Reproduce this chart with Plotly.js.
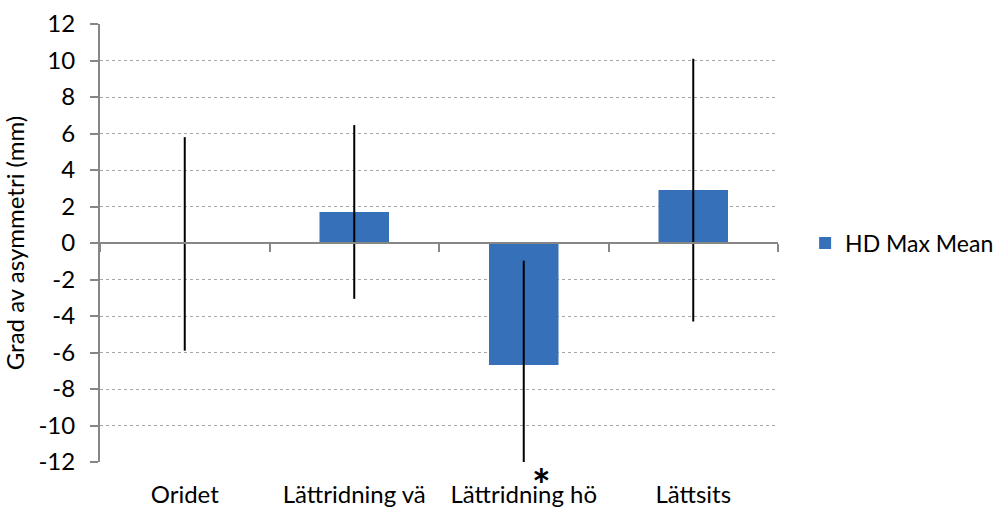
<!DOCTYPE html>
<html>
<head>
<meta charset="utf-8">
<script src="https://cdn.plot.ly/plotly-3.0.1.min.js"></script>
<style>html,body{margin:0;padding:0;background:#fff;}#chart{width:999px;height:511px;}</style>
</head>
<body>
<div id="chart"></div>
<script>
const categories = ["Oridet", "Lättridning vä", "Lättridning hö", "Lättsits"];
const meanValues = [-0.05, 1.70, -6.68, 2.90];
const errorValues = [5.85, 4.76, 5.71, 7.20];
const yTickValues = [-12, -10, -8, -6, -4, -2, 0, 2, 4, 6, 8, 10, 12];
const seriesName = "HD Max Mean";
const yTitle = "Grad av asymmetri (mm)";
const markText = "*";
const markedCategory = "Lättridning hö";

const font = "Lato, 'Open Sans', sans-serif";
const fs = 24;

const traces = [
  {
    type: "bar",
    x: categories,
    y: meanValues,
    name: seriesName,
    marker: { color: "#3570b8", line: { width: 0 } },
    error_y: { type: "data", array: errorValues, visible: true, color: "#000000", thickness: 2, width: 0 },
    xaxis: "x",
    yaxis: "y"
  },
  {
    type: "scatter",
    mode: "none",
    x: categories,
    y: categories.map(() => 0),
    xaxis: "x2",
    yaxis: "y",
    showlegend: false,
    hoverinfo: "skip"
  }
];

const layout = {
  width: 999,
  height: 511,
  paper_bgcolor: "#ffffff",
  plot_bgcolor: "#ffffff",
  margin: { l: 100, r: 221, t: 24, b: 49, autoexpand: false },
  bargap: 0.59,
  font: { family: font, size: fs, color: "#000000" },
  showlegend: true,
  legend: {
    x: 1.04, xanchor: "left", y: 0.5, yanchor: "middle",
    font: { family: font, size: 23, color: "#000000" },
    bgcolor: "rgba(0,0,0,0)"
  },
  xaxis: {
    type: "category",
    categoryorder: "array",
    categoryarray: categories,
    showline: false,
    showgrid: false,
    zeroline: false,
    ticks: "",
    tickfont: { family: font, size: fs, color: "#000000" },
    ticklabelstandoff: 16
  },
  xaxis2: {
    type: "category",
    categoryorder: "array",
    categoryarray: categories,
    overlaying: "x",
    matches: "x",
    anchor: "free",
    position: 0.5,
    showline: true,
    linecolor: "#868686",
    linewidth: 2,
    ticks: "outside",
    tickson: "boundaries",
    ticklen: 8,
    tickwidth: 2,
    tickcolor: "#868686",
    showticklabels: false,
    showgrid: false,
    zeroline: false
  },
  yaxis: {
    range: [-12, 12],
    tickvals: yTickValues,
    ticktext: yTickValues.map(String),
    showline: true,
    linecolor: "#868686",
    linewidth: 2,
    ticks: "outside",
    ticklen: 8,
    tickwidth: 2,
    tickcolor: "#868686",
    ticklabelstandoff: 10,
    showgrid: true,
    gridcolor: "#a6a6a6",
    griddash: "dot",
    gridwidth: 1,
    zeroline: false,
    tickfont: { family: font, size: fs, color: "#000000" },
    title: { text: yTitle, font: { family: font, size: fs, color: "#000000" }, standoff: 12 }
  },
  annotations: [
    {
      x: markedCategory,
      y: 0,
      xref: "x",
      yref: "paper",
      yanchor: "middle",
      text: "<b>" + markText + "</b>",
      showarrow: false,
      xshift: 18,
      yshift: -22,
      font: { family: font, size: 44, color: "#000000" }
    }
  ]
};

Plotly.newPlot("chart", traces, layout, { staticPlot: true, displayModeBar: false });
</script>
</body>
</html>
